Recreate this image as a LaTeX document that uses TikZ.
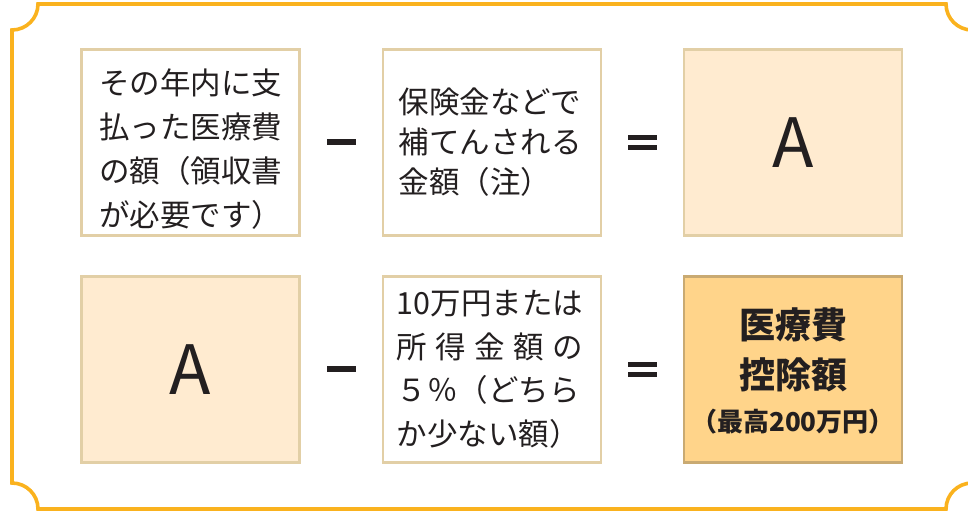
\documentclass[tikz,border=0pt]{standalone}
\usepackage{fontspec}
\newfontfamily\cjk{Noto Sans CJK JP}
\definecolor{frameorange}{HTML}{FAB21E}
\definecolor{boxline}{HTML}{E2CFA6}
\definecolor{lightfill}{HTML}{FFEBD0}
\definecolor{darkfill}{HTML}{FFD48A}
\definecolor{darkline}{HTML}{C9AA72}
\definecolor{ink}{HTML}{231F20}
\tikzset{
  box/.style={draw=boxline, line width=2.5pt, fill=white, minimum width=218pt, minimum height=186pt, inner sep=0pt, text=ink},
  lbox/.style={box, fill=lightfill},
  dbox/.style={box, fill=darkfill, draw=darkline},
  txt/.style={font=\cjk\fontsize{30.5}{44}\selectfont, align=left, text=ink, inner sep=0pt},
  bigA/.style={font=\cjk\fontsize{68}{70}\selectfont, text=ink},
  bar/.style={fill=ink, inner sep=0pt, minimum width=29pt, minimum height=5.5pt},
}
\begin{document}
\begin{tikzpicture}[x=1pt,y=1pt]
\useasboundingbox (0,0) rectangle (968,-511);
\begin{scope}
\clip (0,0) rectangle (968,-511);
\draw[frameorange, line width=3.6pt]
  (38,-4) -- (946,-4) arc[start angle=180, end angle=270, radius=26pt]
  -- (972,-483) arc[start angle=90, end angle=180, radius=26pt]
  -- (38,-509) arc[start angle=0, end angle=90, radius=26pt]
  -- (12,-30) arc[start angle=270, end angle=360, radius=26pt] -- cycle;
\end{scope}
% row 1
\node[box] (b1) at (190.5,-142.5) {};
\node[txt] (t1) at (190.5,-149) {その年内に支\\払った医療費\\の額（領収書\\が必要です）};
\node[bar] (m1) at (341.5,-142) {};
\node[box] (b2) at (492,-142.5) {};
\node[txt, font=\cjk\fontsize{30.5}{40}\selectfont] (t2) at (490,-142) {保険金などで\\補てんされる\\金額（注）};
\node[bar] (e1a) at (642.5,-137.5) {};
\node[bar] (e1b) at (642.5,-147.5) {};
\node[lbox] (b3) at (793,-142.5) {};
\node[bigA] (A1) at (793,-142.5) {A};
% row 2
\node[lbox] (b4) at (190.5,-369.5) {};
\node[bigA] (A2) at (190.5,-369.5) {A};
\node[bar] (m2) at (341.5,-369) {};
\node[box] (b5) at (492,-369.5) {};
\node[txt, font=\cjk\fontsize{30.5}{43.5}\selectfont] (t5) at (490,-369.5) {10万円または\\\makebox[186pt][s]{所\hfill 得\hfill 金\hfill 額\hfill の}\\５％（どちら\\か少ない額）};
\node[bar] (e2a) at (642.5,-364.5) {};
\node[bar] (e2b) at (642.5,-374.5) {};
\node[dbox] (b6) at (793,-369.5) {};
\node[txt, align=center, font=\cjk\bfseries\fontsize{36}{50}\selectfont] (t6) at (793,-350) {医療費\\控除額};
\node[txt, font=\cjk\bfseries\fontsize{26}{30}\selectfont] (t6b) at (793,-422) {（最高200万円）};
\end{tikzpicture}
\end{document}
